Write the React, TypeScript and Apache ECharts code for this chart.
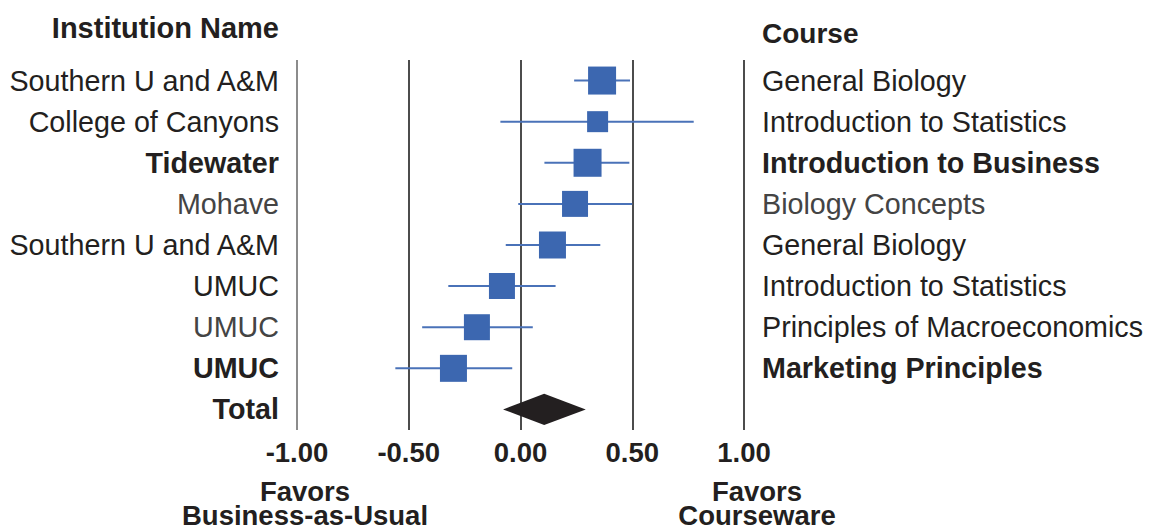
import React, { useEffect, useRef } from "react";
import * as echarts from "echarts";

const institutions = [
  "Southern U and A&M",
  "College of Canyons",
  "Tidewater",
  "Mohave",
  "Southern U and A&M",
  "UMUC",
  "UMUC",
  "UMUC",
  "Total",
];
const courses = [
  "General Biology",
  "Introduction to Statistics",
  "Introduction to Business",
  "Biology Concepts",
  "General Biology",
  "Introduction to Statistics",
  "Principles of Macroeconomics",
  "Marketing Principles",
  "",
];
const estimates = [0.365, 0.345, 0.3, 0.244, 0.143, -0.083, -0.195, -0.3];
const lowerCI = [0.24, -0.09, 0.107, -0.01, -0.066, -0.323, -0.44, -0.56];
const upperCI = [0.49, 0.775, 0.487, 0.5, 0.357, 0.157, 0.055, -0.037];
const weights = [14.0, 10.5, 14.0, 13.0, 13.5, 13.0, 13.0, 13.5];
const totalEstimate = 0.106;
const totalLower = -0.078;
const totalUpper = 0.292;
const boldRows = [2, 7, 8];
const greyRows = [3, 6];
const greyCourseRows = [3];
const xTicks = [-1, -0.5, 0, 0.5, 1];

const FONT = "'Liberation Sans', Arial, Helvetica, sans-serif";
const TEXT = "#231f20";

export default function App() {
  const ref = useRef<HTMLDivElement>(null);
  useEffect(() => {
    if (!ref.current) return;
    const chart = echarts.init(ref.current, undefined, { renderer: "svg" });
    const cats = institutions.map((_, i) => String(i));
    const rowData = estimates.map((e, i) => [e, i, lowerCI[i], upperCI[i], weights[i]]);
    const totalIdx = institutions.length - 1;

    const labelFmt = (names: string[], grey: number[]) => (v: string) => {
      const i = Number(v);
      const name = names[i];
      if (!name) return "";
      if (boldRows.includes(i)) return `{b|${name}}`;
      if (grey.includes(i)) return `{g|${name}}`;
      return `{n|${name}}`;
    };
    const rich = {
      n: { fontSize: 28.7, fontFamily: FONT, color: TEXT },
      b: { fontSize: 28.7, fontFamily: FONT, color: TEXT, fontWeight: "bold" },
      g: { fontSize: 28.7, fontFamily: FONT, color: "#444444" },
    };
    const bottomStyle = (text: string) => ({
      text,
      fontSize: 27.5,
      lineHeight: 24,
      fontWeight: "bold",
      fontFamily: FONT,
      fill: TEXT,
      align: "center",
      verticalAlign: "middle",
    });

    chart.setOption({
      animation: false,
      backgroundColor: "#ffffff",
      grid: { left: 297, right: 405, top: 60, bottom: 97, containLabel: false },
      xAxis: {
        type: "value",
        min: -1,
        max: 1,
        interval: 0.5,
        axisLine: { show: false },
        axisTick: { show: false },
        splitLine: {
          show: true,
          lineStyle: { color: ["#666666", "#111111", "#111111", "#111111", "#111111"], width: 1.5 },
        },
        axisLabel: {
          formatter: (v: number) => (xTicks.includes(v) ? v.toFixed(2) : ""),
          fontSize: 27.5,
          fontWeight: "bold",
          fontFamily: FONT,
          color: TEXT,
          verticalAlign: "middle",
          margin: 22,
          showMinLabel: true,
          showMaxLabel: true,
        },
      },
      yAxis: [
        {
          type: "category",
          data: cats,
          inverse: true,
          position: "left",
          axisLine: { show: false },
          axisTick: { show: false },
          splitLine: { show: false },
          axisLabel: { formatter: labelFmt(institutions, greyRows), rich, margin: 18, interval: 0 },
        },
        {
          type: "category",
          data: cats,
          inverse: true,
          position: "right",
          axisLine: { show: false },
          axisTick: { show: false },
          splitLine: { show: false },
          axisLabel: { formatter: labelFmt(courses, greyCourseRows), rich, margin: 18, interval: 0 },
        },
      ],
      graphic: [
        {
          type: "text",
          x: 279,
          y: 28,
          style: {
            text: "Institution Name",
            fontSize: 29,
            fontWeight: "bold",
            fontFamily: FONT,
            fill: TEXT,
            align: "right",
            verticalAlign: "middle",
          },
        },
        {
          type: "text",
          x: 762,
          y: 33,
          style: {
            text: "Course",
            fontSize: 28,
            fontWeight: "bold",
            fontFamily: FONT,
            fill: TEXT,
            align: "left",
            verticalAlign: "middle",
          },
        },
        { type: "text", x: 305, y: 503, style: bottomStyle("Favors\nBusiness-as-Usual") },
        { type: "text", x: 757, y: 503, style: bottomStyle("Favors\nCourseware") },
      ],
      series: [
        {
          type: "custom",
          xAxisIndex: 0,
          yAxisIndex: 0,
          encode: { x: 0, y: 1 },
          data: rowData,
          renderItem: (params: any, api: any) => {
            const idx = api.value(1);
            const pE = api.coord([api.value(0), idx]);
            const pL = api.coord([api.value(2), idx]);
            const pH = api.coord([api.value(3), idx]);
            const s = api.value(4) * 2;
            return {
              type: "group",
              children: [
                {
                  type: "line",
                  shape: { x1: pL[0], y1: pL[1], x2: pH[0], y2: pH[1] },
                  style: { stroke: "#4a72b8", lineWidth: 2 },
                },
                {
                  type: "rect",
                  shape: { x: pE[0] - s / 2, y: pE[1] - s / 2, width: s, height: s },
                  style: { fill: "#3c67b0" },
                },
              ],
            };
          },
        },
        {
          type: "custom",
          xAxisIndex: 0,
          yAxisIndex: 0,
          encode: { x: 0, y: 1 },
          data: [[totalEstimate, totalIdx, totalLower, totalUpper]],
          renderItem: (params: any, api: any) => {
            const idx = api.value(1);
            const pE = api.coord([api.value(0), idx]);
            const pL = api.coord([api.value(2), idx]);
            const pH = api.coord([api.value(3), idx]);
            const h = api.size([0, 1])[1] * 0.38;
            return {
              type: "polygon",
              shape: {
                points: [
                  [pL[0], pL[1]],
                  [pE[0], pE[1] - h],
                  [pH[0], pH[1]],
                  [pE[0], pE[1] + h],
                ],
              },
              style: { fill: "#231f20" },
            };
          },
        },
      ],
    });
    return () => chart.dispose();
  }, []);
  return (
    <div
      ref={ref}
      style={{ position: "fixed", left: 0, top: 0, width: 1149, height: 527, background: "#fff" }}
    />
  );
}
